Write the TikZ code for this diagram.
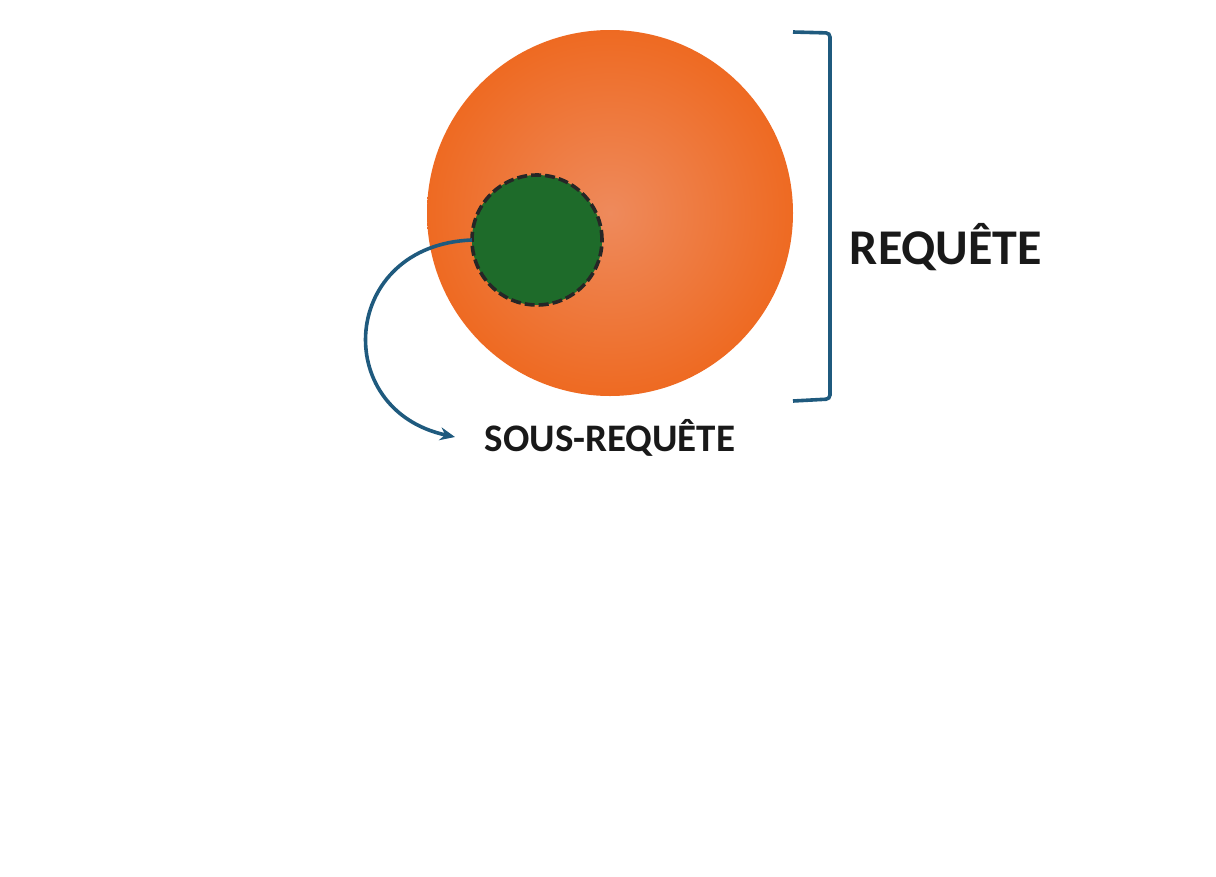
\documentclass[tikz,border=0pt]{standalone}
\usepackage{fontspec}
\setmainfont{Carlito}
\usetikzlibrary{arrows.meta}
\definecolor{reqorange}{HTML}{EE6A22}
\definecolor{reqlight}{HTML}{EE8A5C}
\definecolor{subgreen}{HTML}{1E6B2A}
\definecolor{linkblue}{HTML}{1F5A7E}
\tikzset{inner sep=0pt, outer sep=0pt,
  lbl/.style={font=\bfseries, text=black!90}}

\begin{document}
\begin{tikzpicture}[x=1pt, y=-1pt]
\useasboundingbox (0,0) rectangle (1216,876);
\node[circle, minimum size=366pt, inner color=reqlight, outer color=reqorange] (req) at (610,213) {};
\node[circle, minimum size=130pt, fill=subgreen, draw=black!85, line width=3.6pt,
  dash pattern=on 10pt off 4pt] (sub) at (537,240) {};
\node[lbl, font=\bfseries\fontsize{50}{60}\selectfont] (reqlbl) at (946,247) {REQUÊTE};
\node[lbl, font=\bfseries\fontsize{39}{47}\selectfont] (sublbl) at (610,438) {SOUS-REQUÊTE};
\coordinate (brtop) at (793,32);
\coordinate (brbot) at (793,401);
\coordinate (arrowend) at (455,437);
% bracket round the orange circle
\draw[linkblue, line width=3.6pt, rounded corners=4pt] (brtop) -- (830,33) -- (830,399) -- (brbot);
% arrow out of the green circle
\draw[linkblue, line width=3.6pt, -{Stealth[length=15pt, width=13pt]}]
  (sub.west) .. controls (340,245) and (330,410) .. (arrowend);
\end{tikzpicture}
\end{document}
